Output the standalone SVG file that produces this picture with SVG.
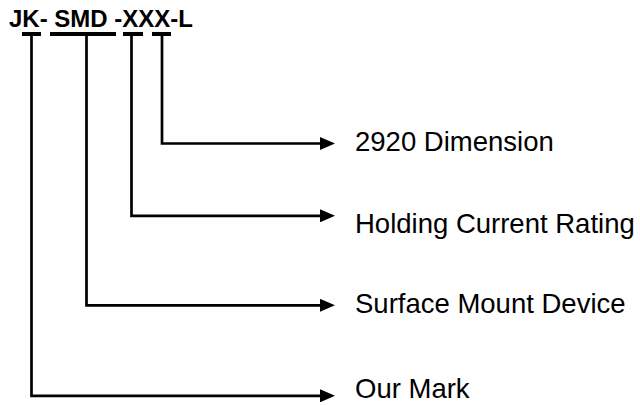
<svg xmlns="http://www.w3.org/2000/svg" width="640" height="405" viewBox="0 0 640 405">
  <style>
    .title { font-family: "Liberation Sans", Arial, sans-serif; font-weight: bold; font-size: 24px; fill: #000; }
    .label { font-family: "Liberation Sans", Arial, sans-serif; font-size: 27.5px; fill: #000; }
    .bar { fill: #000; }
    .conn { fill: none; stroke: #000; stroke-width: 2.7; stroke-linejoin: miter; }
  </style>
  <defs>
    <marker id="arrow" markerUnits="userSpaceOnUse" markerWidth="16" markerHeight="13" refX="0" refY="6.5" orient="auto">
      <path d="M0,0 L15,6.5 L0,13 z" fill="#000"/>
    </marker>
  </defs>
  <rect width="640" height="405" fill="#fff"/>

  <g id="part-code">
    <text class="title" x="9" y="27">JK- SMD -XXX-L</text>
    <rect class="bar" x="22" y="32" width="19" height="4"/>
    <rect class="bar" x="50" y="32" width="66" height="4"/>
    <rect class="bar" x="123" y="32" width="20" height="4"/>
    <rect class="bar" x="152" y="32" width="19" height="4"/>
  </g>

  <g id="connectors">
    <polyline class="conn" points="162,35 162,143.5 320,143.5" marker-end="url(#arrow)"/>
    <polyline class="conn" points="131.5,35 131.5,215.8 320,215.8" marker-end="url(#arrow)"/>
    <polyline class="conn" points="86.5,35 86.5,305.3 320,305.3" marker-end="url(#arrow)"/>
    <polyline class="conn" points="31.5,35 31.5,395.8 320,395.8" marker-end="url(#arrow)"/>
  </g>

  <g id="label-dimension">
    <text class="label" x="355" y="151">2920 Dimension</text>
  </g>
  <g id="label-holding">
    <text class="label" x="355" y="233">Holding Current Rating</text>
  </g>
  <g id="label-smd">
    <text class="label" x="355" y="313">Surface Mount Device</text>
  </g>
  <g id="label-mark">
    <text class="label" x="355" y="398">Our Mark</text>
  </g>
</svg>
